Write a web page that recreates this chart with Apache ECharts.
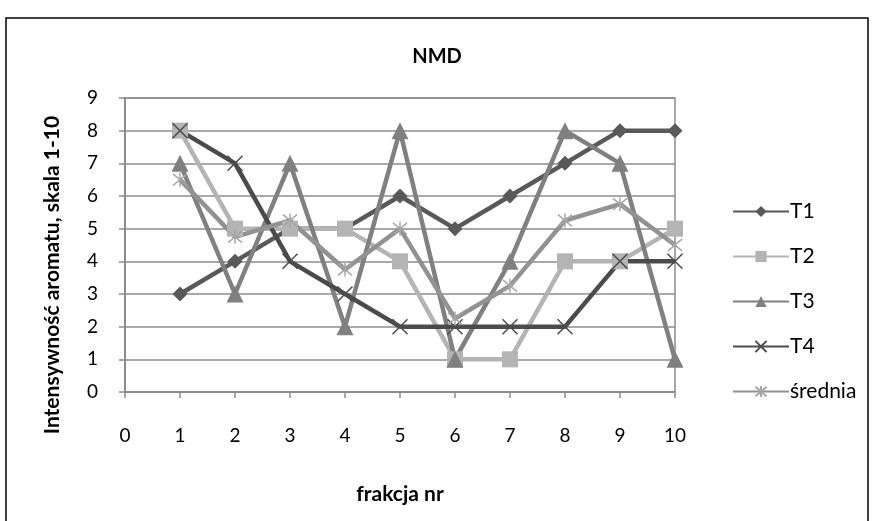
<!DOCTYPE html>
<html>
<head>
<meta charset="utf-8">
<script src="https://cdn.jsdelivr.net/npm/echarts@6/dist/echarts.min.js"></script>
<style>
  html, body { margin: 0; padding: 0; background: #fff; }
  #chart { width: 874px; height: 521px; }
</style>
</head>
<body>
<div id="chart"></div>
<script>
// Fraction numbers on the horizontal axis
const fractions = [1, 2, 3, 4, 5, 6, 7, 8, 9, 10];

// Aroma intensity scores (scale 1-10) per taster
const t1 = [3, 4, 5, 5, 6, 5, 6, 7, 8, 8];
const t2 = [8, 5, 5, 5, 4, 1, 1, 4, 4, 5];
const t3 = [7, 3, 7, 2, 8, 1, 4, 8, 7, 1];
const t4 = [8, 7, 4, 3, 2, 2, 2, 2, 4, 4];
const mean = [6.5, 4.75, 5.25, 3.75, 5, 2.25, 3.25, 5.25, 5.75, 4.5];

const seriesNames = ['T1', 'T2', 'T3', 'T4', 'średnia'];

const FONT = 'Lato, "Open Sans", sans-serif';

const pairs = vals => fractions.map((f, i) => [f, vals[i]]);

const crossPath = 'path://M0,0L10,10M10,0L0,10';
const starPath = 'path://M0,0L10,10M10,0L0,10M5,-1L5,11';

function lineSeries(name, vals, color, symbol, size, opts) {
  return Object.assign({
    name: name,
    type: 'line',
    data: pairs(vals),
    symbol: symbol,
    symbolSize: size,
    showAllSymbol: true,
    animation: false,
    lineStyle: { color: color, width: 4.5 },
    itemStyle: { color: color }
  }, opts || {});
}

const chart = echarts.init(document.getElementById('chart'));
chart.setOption({
  backgroundColor: '#fff',
  animation: false,
  title: {
    text: 'NMD',
    left: 'center',
    top: 42,
    textStyle: { fontFamily: FONT, fontSize: 20, fontWeight: 'bold', color: '#000' }
  },
  grid: {
    left: 125, right: 199, top: 98, bottom: 129,
    show: true, borderColor: '#8c8c8c', borderWidth: 1.5
  },
  legend: {
    data: seriesNames,
    orient: 'vertical',
    left: 727,
    top: 196,
    itemWidth: 56,
    itemHeight: 14,
    itemGap: 24,
    textStyle: { fontFamily: FONT, fontSize: 21, color: '#000', padding: [0, 0, 0, -4] }
  },
  xAxis: {
    type: 'value',
    min: 0, max: 10, interval: 1,
    name: 'frakcja nr',
    nameLocation: 'middle',
    nameGap: 92,
    nameTextStyle: { fontFamily: FONT, fontSize: 21, fontWeight: 'bold', color: '#000' },
    axisLine: { show: true, lineStyle: { color: '#8c8c8c', width: 2 } },
    axisTick: { show: true, length: 6, lineStyle: { color: '#8c8c8c', width: 1.5 } },
    axisLabel: { fontFamily: FONT, fontSize: 19, color: '#000', margin: 34 },
    splitLine: { show: false }
  },
  yAxis: {
    type: 'value',
    min: 0, max: 9, interval: 1,
    name: 'Intensywność aromatu, skala 1-10',
    nameLocation: 'middle',
    nameGap: 62,
    nameTextStyle: {
      fontFamily: FONT, fontSize: 21, fontWeight: 'bold', color: '#000',
      padding: [0, 60, 0, 0]
    },
    axisLine: { show: true, lineStyle: { color: '#8c8c8c', width: 2 } },
    axisTick: { show: true, length: 6, lineStyle: { color: '#8c8c8c', width: 1.5 } },
    axisLabel: { fontFamily: FONT, fontSize: 19, color: '#000', margin: 27 },
    splitLine: { show: true, lineStyle: { color: '#8c8c8c', width: 1.5 } }
  },
  graphic: [{
    type: 'rect',
    shape: { x: 6, y: 18, width: 862, height: 520 },
    style: { fill: 'none', stroke: '#000', lineWidth: 1.5 },
    silent: true
  }],
  series: [
    lineSeries('T1', t1, '#595959', 'diamond', 15),
    lineSeries('T2', t2, '#b4b4b4', 'rect', 16),
    lineSeries('T3', t3, '#808080', 'triangle', 17),
    lineSeries('T4', t4, '#4b4b4b', crossPath, 15, {
      itemStyle: { color: 'rgba(0,0,0,0)', borderColor: '#4b4b4b', borderWidth: 1.5 }
    }),
    lineSeries('średnia', mean, '#929292', starPath, 14, {
      itemStyle: { color: 'rgba(0,0,0,0)', borderColor: '#a6a6a6', borderWidth: 1.5 }
    })
  ]
});
</script>
</body>
</html>
